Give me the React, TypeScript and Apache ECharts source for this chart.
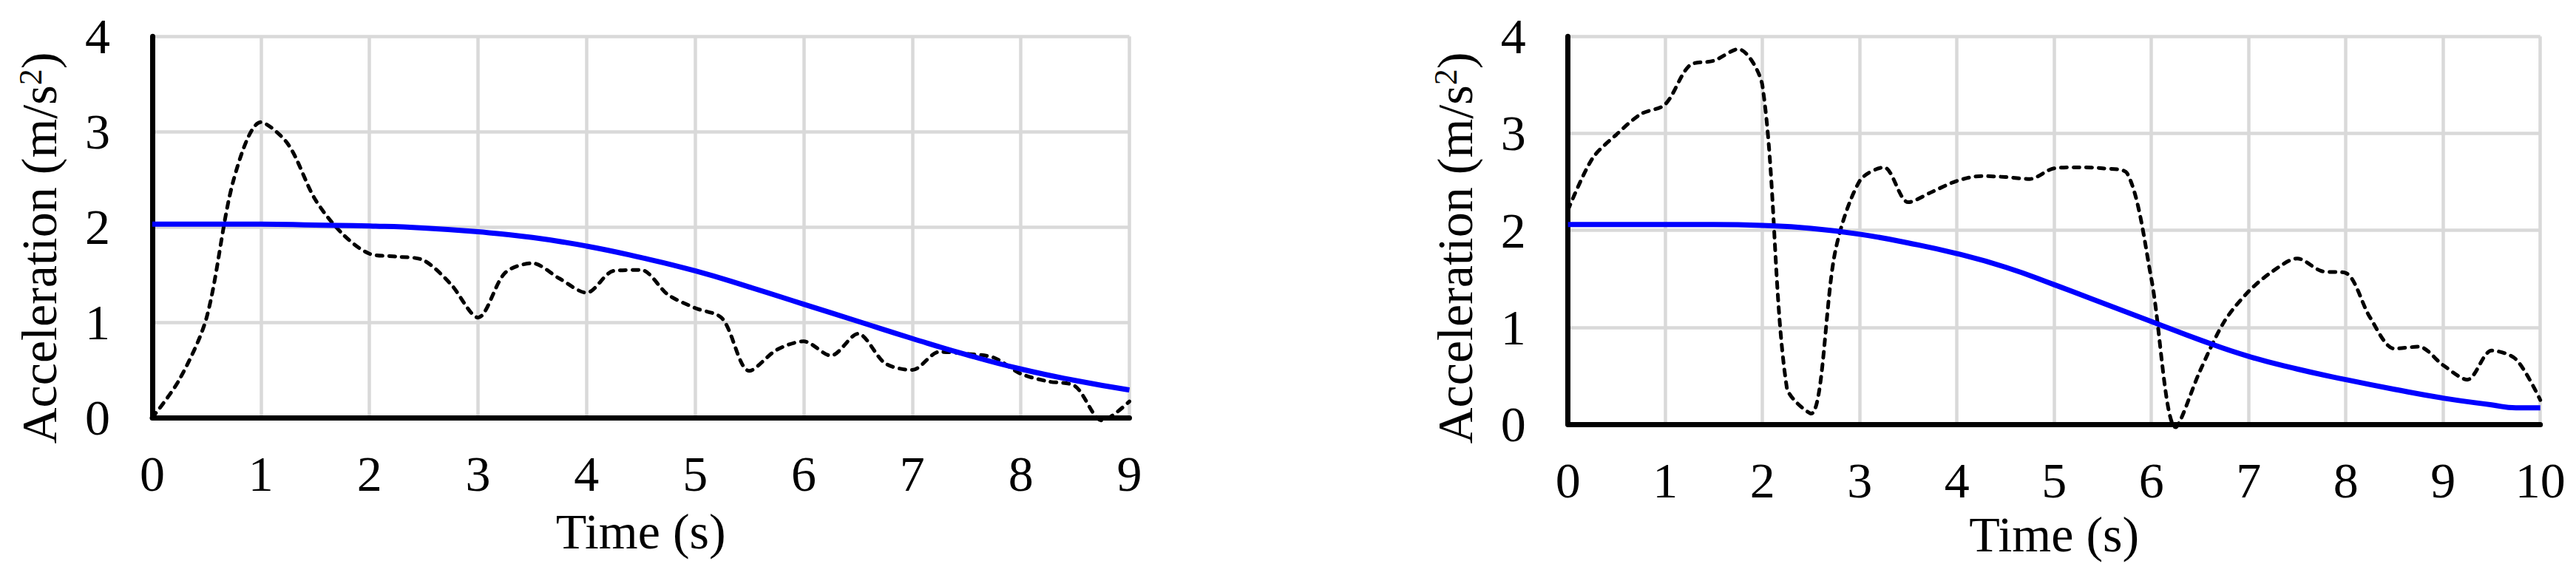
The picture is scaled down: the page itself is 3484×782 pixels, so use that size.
import React, { useEffect, useRef } from "react";
import * as echarts from "echarts";

// ---------- data ----------
const leftTimes = [0, 0.25, 0.5, 0.75, 1, 1.25, 1.5, 1.75, 2, 2.25, 2.5, 2.75, 3, 3.25, 3.5, 3.75, 4, 4.25, 4.5, 4.75, 5, 5.25, 5.5, 5.75, 6, 6.25, 6.5, 6.75, 7, 7.25, 7.5, 7.75, 8, 8.25, 8.5, 8.75, 9];
const leftMeasured = [0, 0.4, 1.05, 2.5, 3.1, 2.87, 2.29, 1.93, 1.72, 1.69, 1.65, 1.4, 1.05, 1.52, 1.62, 1.46, 1.31, 1.54, 1.55, 1.29, 1.15, 1.04, 0.49, 0.71, 0.8, 0.65, 0.88, 0.57, 0.5, 0.69, 0.67, 0.63, 0.46, 0.38, 0.33, -0.03, 0.17];
const leftModelTimes = [0, 0.5, 1, 1.5, 2, 2.5, 3, 3.5, 4, 4.5, 5, 5.5, 6, 6.5, 7, 7.5, 8, 8.5, 9];
const leftModel = [2.03, 2.03, 2.03, 2.02, 2.01, 1.99, 1.95, 1.89, 1.8, 1.68, 1.54, 1.37, 1.19, 1.01, 0.83, 0.66, 0.51, 0.39, 0.29];

const rightTimes = [0, 0.25, 0.5, 0.75, 1, 1.25, 1.5, 1.75, 2, 2.25, 2.5, 2.75, 3, 3.25, 3.5, 3.75, 4, 4.25, 4.5, 4.75, 5, 5.25, 5.5, 5.75, 6, 6.25, 6.5, 6.75, 7, 7.25, 7.5, 7.75, 8, 8.25, 8.5, 8.75, 9, 9.25, 9.5, 9.75, 10];
const rightMeasured = [2.21, 2.74, 2.99, 3.2, 3.3, 3.7, 3.75, 3.87, 3.49, 0.38, 0.11, 1.79, 2.51, 2.65, 2.29, 2.4, 2.51, 2.56, 2.55, 2.53, 2.64, 2.65, 2.64, 2.59, 1.5, -0.03, 0.55, 1.06, 1.37, 1.58, 1.71, 1.58, 1.56, 1.1, 0.78, 0.8, 0.61, 0.46, 0.76, 0.67, 0.25];
const rightModelTimes = [0, 0.5, 1, 1.5, 2, 2.5, 3, 3.5, 4, 4.5, 5, 5.5, 6, 6.5, 7, 7.5, 8, 8.5, 9, 9.5, 9.75, 10];
const rightModel = [2.06, 2.06, 2.06, 2.06, 2.05, 2.02, 1.96, 1.87, 1.76, 1.62, 1.44, 1.25, 1.06, 0.87, 0.7, 0.57, 0.46, 0.36, 0.27, 0.2, 0.17, 0.17];

const yTicks = [0, 1, 2, 3, 4];
const leftXMax = 9;
const rightXMax = 10;
const xTitle = "Time (s)";
const yTitle = "Acceleration (m/s{sup|2})";

// ---------- styles ----------
const FONT = "'Times New Roman', 'Liberation Serif', serif";
const FS = 68;
const GRID_COLOR = "#d9d9d9";

const pairs = (xs: number[], ys: number[]) => xs.map((x, i) => [x, ys[i]]);

function xAxis(gridIndex: number, max: number, nameGap: number) {
  return {
    type: "value",
    gridIndex,
    min: 0,
    max,
    interval: 1,
    name: xTitle,
    nameLocation: "middle",
    nameGap,
    nameTextStyle: { fontFamily: FONT, fontSize: FS, color: "#000" },
    axisLine: { show: true, onZero: false, lineStyle: { color: "#000", width: 7 } },
    axisTick: { show: false },
    axisLabel: { fontFamily: FONT, fontSize: FS, color: "#000", margin: 42 },
    splitLine: { show: true, lineStyle: { color: GRID_COLOR, width: 4.5 } },
  };
}

function yAxis(gridIndex: number, nameGap: number, padRight: number) {
  return {
    type: "value",
    gridIndex,
    min: yTicks[0],
    max: yTicks[yTicks.length - 1],
    interval: 1,
    name: yTitle,
    nameLocation: "middle",
    nameGap,
    nameTextStyle: {
      fontFamily: FONT,
      fontSize: FS,
      color: "#000",
      padding: [0, padRight, 0, 0],
      rich: {
        sup: { fontFamily: FONT, fontSize: 44, color: "#000", verticalAlign: "top", lineHeight: 44 },
      },
    },
    axisLine: { show: true, lineStyle: { color: "#000", width: 7 } },
    axisTick: { show: false },
    axisLabel: { fontFamily: FONT, fontSize: FS, color: "#000", margin: 57 },
    splitLine: { show: true, lineStyle: { color: GRID_COLOR, width: 4.5 } },
  };
}

function measuredSeries(idx: number, data: number[][]) {
  return {
    type: "line",
    xAxisIndex: idx,
    yAxisIndex: idx,
    data,
    smooth: 0.3,
    showSymbol: false,
    clip: false,
    z: 3,
    lineStyle: { color: "#000", width: 5, type: [8, 9], cap: "round" },
  };
}

function modelSeries(idx: number, data: number[][]) {
  return {
    type: "line",
    xAxisIndex: idx,
    yAxisIndex: idx,
    data,
    smooth: true,
    showSymbol: false,
    clip: false,
    z: 4,
    lineStyle: { color: "#0000ff", width: 7 },
  };
}

export default function App() {
  const ref = useRef<HTMLDivElement>(null);
  useEffect(() => {
    const chart = echarts.init(ref.current!, null, { renderer: "svg" });
    chart.setOption({
      animation: false,
      backgroundColor: "#fff",
      grid: [
        { left: 206, top: 49.3, width: 1321.5, height: 515.7 },
        { left: 2120.7, top: 49.3, width: 1315, height: 524.7 },
      ],
      xAxis: [xAxis(0, leftXMax, 120), xAxis(1, rightXMax, 111)],
      yAxis: [yAxis(0, 119, 57), yAxis(1, 119, 48)],
      series: [
        modelSeries(0, pairs(leftModelTimes, leftModel)),
        measuredSeries(0, pairs(leftTimes, leftMeasured)),
        modelSeries(1, pairs(rightModelTimes, rightModel)),
        measuredSeries(1, pairs(rightTimes, rightMeasured)),
      ],
    });
    return () => chart.dispose();
  }, []);
  return (
    <div
      ref={ref}
      style={{ position: "absolute", left: 0, top: 0, width: 3484, height: 782, background: "#fff" }}
    />
  );
}
